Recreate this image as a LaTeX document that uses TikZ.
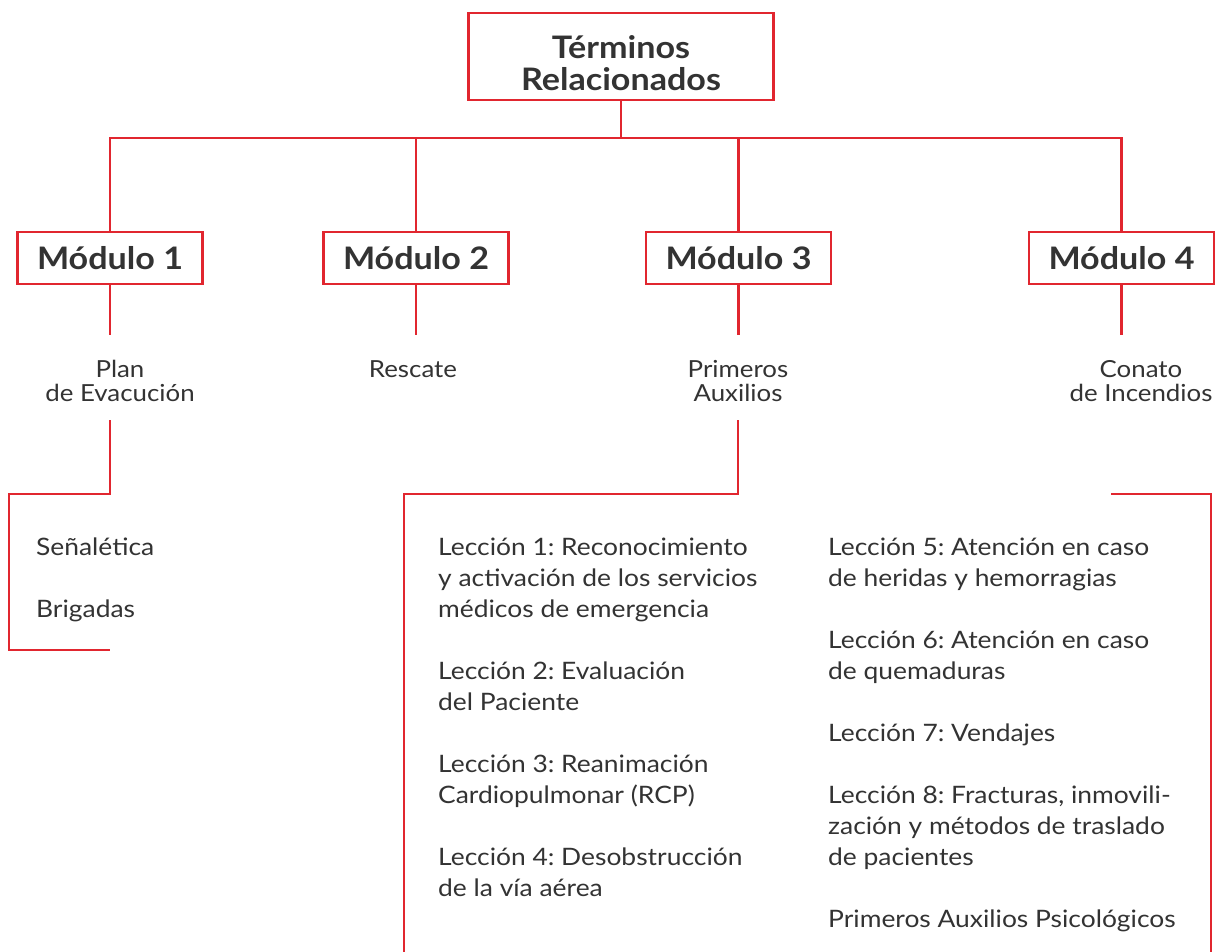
\documentclass[tikz,border=0pt]{standalone}
\usepackage{fontspec}
\setmainfont{Lato}[FakeStretch=1.1]
\frenchspacing
\definecolor{lred}{HTML}{E1262F}
\definecolor{txt}{HTML}{333333}
\begin{document}
\begin{tikzpicture}[x=1pt,y=-1pt,
  line/.style={draw=lred,line width=2.6pt},
  boxnode/.style={draw=lred,line width=2.6pt,inner sep=0pt,text=txt,font=\fontsize{31}{32}\selectfont\bfseries,align=center},
  modbox/.style={boxnode,minimum width=185pt,minimum height=52pt},
  lbl/.style={inner sep=0pt,text=txt,font=\fontsize{23.5}{24}\selectfont,align=center,anchor=north},
  lst/.style={inner sep=0pt,text=txt,font=\fontsize{24}{31}\selectfont,align=left,anchor=north west}]
\clip (0,0) rectangle (1215,952);
\fill[white] (0,0) rectangle (1215,952);
% top
\node[boxnode,minimum width=305pt,minimum height=87pt] (top) at (621,56.5) {\rule{0pt}{36pt}Términos\\Relacionados};
\coordinate (bus) at (621,138);
% modules
\node[modbox] (m1) at (110,258) {Módulo 1};
\node[modbox] (m2) at (416,258) {Módulo 2};
\node[modbox] (m3) at (738.5,258) {Módulo 3};
\node[modbox] (m4) at (1121.5,258) {Módulo 4};
\draw[line] (top.south) -- (bus);
\draw[line] (m1.north) |- (bus) -| (m4.north);
\draw[line] (m2.north) -- (m2.north |- bus);
\draw[line] (m3.north) -- (m3.north |- bus);
\foreach \m in {m1,m2,m3,m4}{\draw[line] (\m.south) -- ++(0,50);}
% labels
\node[lbl] (l1) at (120,360) {Plan\\de Evacución};
\node[lbl] (l2) at (413,360) {Rescate};
\node[lbl] (l3) at (738,360) {Primeros\\Auxilios};
\node[lbl] (l4) at (1141,360) {Conato\\de Incendios};
% module 1 bracket
\coordinate (a1) at (110,420);
\coordinate (a2) at (9,494);
\coordinate (a3) at (110,650);
\draw[line] (a1) |- (a2) |- (a3);
\node[lst] (s1) at (36,538) {Señalética\\[31pt]Brigadas};
% module 3 bracket
\coordinate (b1) at (738,420);
\coordinate (b2) at (404,494);
\coordinate (b3) at (404,960);
\draw[line] (b1) |- (b2) -- (b3);
\coordinate (c1) at (1111,494);
\coordinate (c2) at (1211,494);
\coordinate (c3) at (1211,960);
\draw[line] (c1) -- (c2) -- (c3);
\node[lst] (left) at (438,538) {Lección 1: Reconocimiento\\y activación de los servicios\\médicos de emergencia\\[31pt]Lección 2: Evaluación\\del Paciente\\[31pt]Lección 3: Reanimación\\Cardiopulmonar (RCP)\\[31pt]Lección 4: Desobstrucción\\de la vía aérea};
\node[lst] (right) at (828,538) {Lección 5: Atención en caso\\de heridas y hemorragias\\[31pt]Lección 6: Atención en caso\\de quemaduras\\[31pt]Lección 7: Vendajes\\[31pt]Lección 8: Fracturas, inmovili-\\zación y métodos de traslado\\de pacientes\\[31pt]Primeros Auxilios Psicológicos};
\end{tikzpicture}
\end{document}
